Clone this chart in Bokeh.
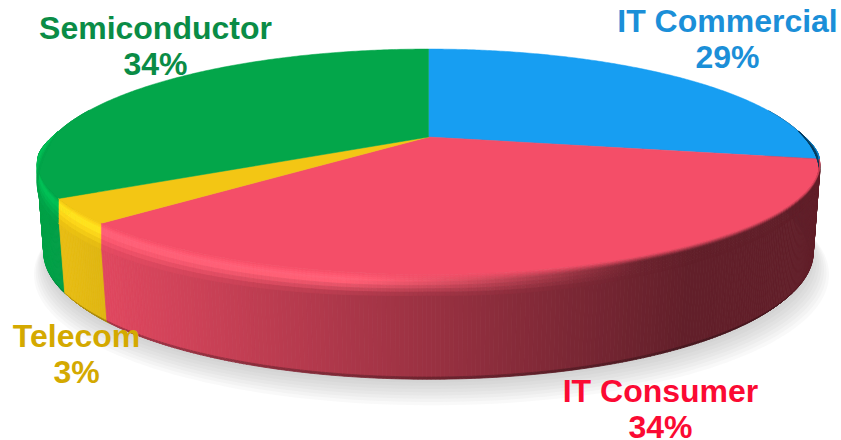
import numpy as np
from bokeh.plotting import figure
from bokeh.models import ColumnDataSource
from bokeh.core.properties import value
from bokeh.embed import file_html
from bokeh.resources import INLINE

# --- data
categories = ["IT Commercial", "IT Consumer", "Telecom", "Semiconductor"]
shares = [28.9, 33.4, 3.4, 34.3]          # slice sizes as measured in the picture
printed = [29, 34, 3, 34]                 # percentages as printed on the labels
face_colors = ["#179ef2", "#f44e68", "#f3c614", "#03a64a"]
label_colors = ["#1b8fd8", "#fb0a33", "#d4a900", "#0a8c46"]
label_x = [727, 660, 76, 155]
label_y = [20, 390, 335, 27]

# --- projection of the tilted disc to page pixels
CX, CY = 428.0, 136.5
K, H, A = 375.6, 112.5, 0.279
DEPTH = 84.0
BOTTOM_R = 0.975
LAYERS = 8


def proj(theta, r=1.0, dz=0.0):
    X, Y = r * np.sin(theta), r * np.cos(theta)
    w = 1 + A * Y
    return CX + K * X / w, CY - H * Y / w + dz * (1 - 0.09 * np.cos(theta))


def rgb(c):
    return np.array([int(c[i:i + 2], 16) for i in (1, 3, 5)], float)


def hexc(v):
    v = np.clip(np.round(v), 0, 255).astype(int)
    return "#%02x%02x%02x" % tuple(v)


def side_factor(x):
    return float(np.clip(0.92 - (x - 100) * 0.52 / 590, 0.4, 0.97))


def bevel_weight(theta):
    return np.clip((0.05 - np.cos(theta)) / 0.25, 0, 1)


def bevel_rise(theta):
    return (4 + 13 * np.abs(np.cos(theta))) * bevel_weight(theta)


fig = figure(width=841, height=440, x_range=(0, 841), y_range=(440, 0),
             x_axis_type=None, y_axis_type=None, toolbar_location=None,
             output_backend="svg", min_border=0, outline_line_color=None,
             background_fill_color="white", border_fill_color="white")
fig.grid.visible = False

# --- soft shadow
sh = np.linspace(0, 2 * np.pi, 240)
for i, s in enumerate(np.linspace(1.0, 0.0, 9)):
    sx, sy = proj(sh, BOTTOM_R + 0.04 * s, DEPTH + 16 * s)
    fig.patch(sx + 3 * s, sy, fill_color="#808080", fill_alpha=0.05, line_color=None)

# --- slices
edges = np.cumsum([0] + shares) / sum(shares) * 2 * np.pi
walls = []
bevel_x, bevel_y, bevel_c = [], [], []


def quad_xy(th0, th1, a0, a1, b0, b1):
    x0, y0 = proj(th0, 1.0 if len(a0) == 0 else a0[0], a0[1])
    x1, y1 = proj(th1, a1[0], a1[1])
    x2, y2 = proj(th1, b1[0], b1[1])
    x3, y3 = proj(th0, b0[0], b0[1])
    return [x0, x1, x2, x3], [y0, y1, y2, y3]


def nodes(theta, base):
    Y, X = np.cos(theta), np.sin(theta)
    xm, _ = proj(theta)
    side = base * side_factor(xm)
    light = float(np.clip((640 - xm) / 300, 0, 1))
    high = (base * 1.1 + np.array([0, 14, 8])) * light + side * (1 - light)
    d = bevel_rise(theta)
    w = float(bevel_weight(theta))
    low = (2 + 12 * abs(X) * light) * w
    mid = -d * (0.7 - 0.15 * light)
    return d, mid, low, high, side


for i, base_hex in enumerate(face_colors):
    base = rgb(base_hex)
    n = max(4, int((edges[i + 1] - edges[i]) / np.radians(0.5)))
    th = np.linspace(edges[i], edges[i + 1], n + 1)
    for t0, t1 in zip(th[:-1], th[1:]):
        tm = 0.5 * (t0 + t1)
        Y = np.cos(tm)
        xm, _ = proj(tm)
        side = base * side_factor(xm)
        if Y < 0.25:
            foot = float(np.clip((-Y - 0.3) / 0.3, 0, 1))
            qx, qy = quad_xy(t0, t1, (1.0, 0.0), (1.0, 0.0), (0.985, DEPTH - 4), (0.985, DEPTH - 4))
            walls.append((Y, qx, qy, hexc(side)))
            qx, qy = quad_xy(t0, t1, (0.985, DEPTH - 4), (0.985, DEPTH - 4), (BOTTOM_R, DEPTH), (BOTTOM_R, DEPTH))
            walls.append((Y, qx, qy, hexc(side * (1 - 0.28 * foot))))
        if bevel_weight(tm) > 0:
            d0, m0, l0, _, _ = nodes(t0, base)
            d1, m1, l1, _, _ = nodes(t1, base)
            _, _, _, high, sd = nodes(tm, base)
            for k in range(LAYERS):
                u0, u1 = k / LAYERS, (k + 1) / LAYERS

                def pos(u, d, m, l):
                    return -d + (m + d) * u / 0.5 if u <= 0.5 else m + (l - m) * (u - 0.5) / 0.5

                uc = 0.5 * (u0 + u1)
                col = base + (high - base) * uc / 0.5 if uc <= 0.5 else high + (sd - high) * (uc - 0.5) / 0.5
                qx, qy = quad_xy(t0, t1, (1.0, pos(u0, d0, m0, l0)), (1.0, pos(u0, d1, m1, l1)),
                                 (1.0, pos(u1, d0, m0, l0)), (1.0, pos(u1, d1, m1, l1)))
                bevel_x.append(qx)
                bevel_y.append(qy)
                bevel_c.append(hexc(col))

walls.sort(key=lambda q: -q[0])
fig.patches(xs="x", ys="y", fill_color="c", line_color="c", line_width=0.8,
            source=ColumnDataSource(dict(x=[q[1] for q in walls], y=[q[2] for q in walls],
                                         c=[q[3] for q in walls])))

for i, base_hex in enumerate(face_colors):
    th = np.linspace(edges[i], edges[i + 1], 200)
    x, y = proj(th, 1.0, -bevel_rise(th))
    fig.patch(np.r_[CX, x], np.r_[CY, y], fill_color=base_hex, line_color=base_hex, line_width=0.5)

fig.patches(xs="x", ys="y", fill_color="c", line_color="c", line_width=0.8,
            source=ColumnDataSource(dict(x=bevel_x, y=bevel_y, c=bevel_c)))

# --- labels
LINE = 36
tx, ty, tt, tc = [], [], [], []
for name, val, col, lx, ly in zip(categories, printed, label_colors, label_x, label_y):
    tx += [lx, lx]
    ty += [ly, ly + LINE]
    tt += [name, f"{val}%"]
    tc += [col, col]
fig.text(x="x", y="y", text="t", text_color="c", text_align="center", text_baseline="middle",
         text_font=value("Liberation Sans"), text_font_style="bold", text_font_size="32px",
         source=ColumnDataSource(dict(x=tx, y=ty, t=tt, c=tc)))

open("out.html", "w").write(file_html(fig, INLINE))
